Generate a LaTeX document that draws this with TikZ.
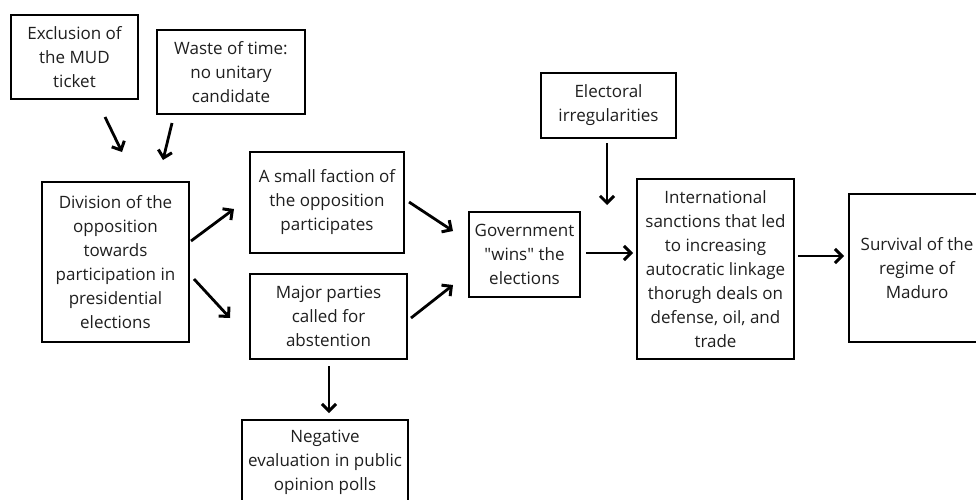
\documentclass[tikz,border=0pt]{standalone}
\usepackage{fontspec}
\setmainfont{Open Sans}
\usetikzlibrary{arrows.meta}
\tikzset{
  box/.style={draw=black, line width=1.8pt, inner sep=0pt, align=center, text=black!88,
    font=\fontsize{17}{24}\selectfont},
  arr/.style={line width=2.8pt, -{Straight Barb[length=7pt,width=14pt,line width=3pt]}},
}
\begin{document}
\begin{tikzpicture}[x=1pt,y=-1pt]
\clip (0,0) rectangle (976,499);
\fill[white] (0,0) rectangle (976,499);
\node[box, minimum width=127pt, minimum height=84pt] (excl) at (74.5,57) {Exclusion of\\the MUD\\ticket};
\node[box, minimum width=148pt, minimum height=84pt] (waste) at (231,72) {Waste of time:\\no unitary\\candidate};
\node[box, minimum width=147pt, minimum height=160pt] (div) at (115.5,262) {Division of the\\opposition\\towards\\participation in\\presidential\\elections};
\node[box, minimum width=154pt, minimum height=101pt] (small) at (327,202.5) {A small faction of\\the opposition\\participates};
\node[box, minimum width=157pt, minimum height=85pt] (major) at (328.5,316.5) {Major parties\\called for\\abstention};
\node[box, minimum width=166pt, minimum height=84pt] (neg) at (325,462) {Negative\\evaluation in public\\opinion polls};
\node[box, minimum width=135pt, minimum height=65pt] (elec) at (608.5,105.5) {Electoral\\irregularities};
\node[box, minimum width=111pt, minimum height=85pt] (gov) at (524.5,254.5) {Government\\\textquotedbl wins\textquotedbl{} the\\elections};
\node[box, minimum width=157pt, minimum height=180pt] (intl) at (715.5,269) {International\\sanctions that led\\to increasing\\autocratic linkage\\thorugh deals on\\defense, oil, and\\trade};
\node[box, minimum width=136pt, minimum height=148pt] (surv) at (917,268) {Survival of the\\regime of\\Maduro};

\coordinate (a1s) at (105,117); \coordinate (a1e) at (122,152);
\coordinate (a2s) at (172,123); \coordinate (a2e) at (163,160);
\coordinate (a3s) at (191,241); \coordinate (a3e) at (234,209);
\coordinate (a4s) at (194,279); \coordinate (a4e) at (230,318);
\coordinate (a5s) at (409,202); \coordinate (a5e) at (453,231);
\coordinate (a6s) at (411,318); \coordinate (a6e) at (453,285);
\coordinate (a7s) at (329,366); \coordinate (a7e) at (329,413);
\coordinate (a8s) at (607,143); \coordinate (a8e) at (607,205);
\coordinate (a9s) at (586,253); \coordinate (a9e) at (633,253);
\coordinate (a10s) at (798,256); \coordinate (a10e) at (844,256);

\draw[arr] (a1s) -- (a1e);
\draw[arr] (a2s) -- (a2e);
\draw[arr] (a3s) -- (a3e);
\draw[arr] (a4s) -- (a4e);
\draw[arr] (a5s) -- (a5e);
\draw[arr] (a6s) -- (a6e);
\draw[arr] (a7s) -- (a7e);
\draw[arr] (a8s) -- (a8e);
\draw[arr] (a9s) -- (a9e);
\draw[arr] (a10s) -- (a10e);
\end{tikzpicture}
\end{document}
